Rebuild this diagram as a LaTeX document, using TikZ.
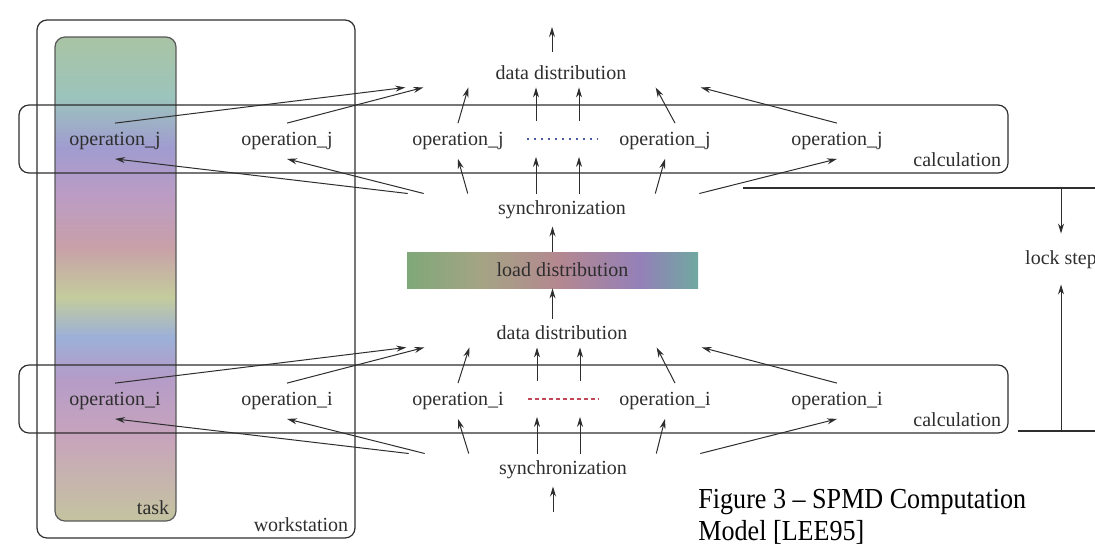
\documentclass[tikz,border=0pt]{standalone}
\usepackage{fontspec}
\setmainfont{Liberation Serif}
\newfontfamily\capfont[FakeStretch=0.9]{Liberation Serif}
\usepackage{tikz}
\usetikzlibrary{arrows.meta,calc}

\definecolor{ink}{HTML}{2E2E2E}
% task bar, top to bottom
\definecolor{tA}{HTML}{A9C4A4}
\definecolor{tB}{HTML}{9CC4BC}
\definecolor{tC}{HTML}{A09CD0}
\definecolor{tD}{HTML}{BC9CC4}
\definecolor{tE}{HTML}{C8A0A8}
\definecolor{tF}{HTML}{C4CC9C}
\definecolor{tG}{HTML}{9CB0D8}
\definecolor{tH}{HTML}{B49CC8}
\definecolor{tI}{HTML}{C8A4BC}
\definecolor{tJ}{HTML}{C4C4A0}
% load distribution, left to right
\definecolor{lA}{HTML}{7FA878}
\definecolor{lB}{HTML}{A4A484}
\definecolor{lC}{HTML}{B48890}
\definecolor{lD}{HTML}{9480B8}
\definecolor{lE}{HTML}{70A8A0}
\definecolor{dotblue}{HTML}{4A5AA8}
\definecolor{dotred}{HTML}{C04858}

\pgfdeclareverticalshading{taskshade}{100bp}{%
  color(0bp)=(tJ); color(25bp)=(tJ); color(33.7bp)=(tI); color(39.9bp)=(tH);
  color(44bp)=(tG); color(48.1bp)=(tF); color(53.3bp)=(tE); color(58.5bp)=(tD);
  color(63.6bp)=(tC); color(68.8bp)=(tB); color(75bp)=(tA); color(100bp)=(tA)}
\pgfdeclarehorizontalshading{loadshade}{100bp}{%
  color(0bp)=(lA); color(25bp)=(lA); color(37.5bp)=(lB); color(51bp)=(lC);
  color(65bp)=(lD); color(75bp)=(lE); color(100bp)=(lE)}

\begin{document}
\begin{tikzpicture}[
  x=0.5pt,y=-0.5pt,
  lbl/.style={font=\fontsize{10}{12}\selectfont,inner sep=3.5pt,text=ink},
  opnode/.style={lbl,inner sep=0pt,minimum height=17.5pt},
  calcbox/.style={draw=ink,line width=0.6pt,rounded corners=5pt,
    minimum width=494.5pt,minimum height=34pt},
  dotsnode/.style={minimum width=35pt,minimum height=17.5pt,inner sep=0pt},
  flow/.style={-{Stealth[length=5pt,width=3pt]},draw=ink,line width=0.5pt},
  rule/.style={draw=ink,line width=0.6pt},
  caplbl/.style={font=\capfont\fontsize{14.5}{16}\selectfont,inner sep=0pt,anchor=base west}
]
\useasboundingbox (0,0) rectangle (1095,548);

% workstation and task
\node[draw=ink,line width=0.6pt,rounded corners=5pt,minimum width=159pt,minimum height=259pt] (ws) at (196,279) {};
\node[lbl,anchor=south east] (wslbl) at (ws.south east) {workstation};
\node[shading=taskshade,draw=ink!80,line width=0.6pt,rounded corners=5pt,minimum width=60.5pt,minimum height=242pt] (task) at (115.5,279) {};
\node[lbl,anchor=south east] (tasklbl) at (task.south east) {task};

% ---------------- upper calculation (j) ----------------
\begin{scope}
  \node[calcbox] (calcj) at (513.5,139) {};
  \node[lbl,anchor=south east] (calcjlbl) at (calcj.south east) {calculation};

  \node[lbl] (ddj) at (561,73) {data distribution};
  \node[lbl] (syncj) at (562,210) {synchronization};

  \node[opnode] (opj1) at (115,141) {operation\_j};
  \node[opnode] (opj2) at (287,141) {operation\_j};
  \node[opnode] (opj3) at (458,141) {operation\_j};
  \node[opnode] (opj4) at (665,141) {operation\_j};
  \node[opnode] (opj5) at (837,141) {operation\_j};
  \node[dotsnode] (dotsj) at (562,139) {};
  \draw[dotblue,line width=0.6pt,dash pattern=on 1pt off 2.5pt] (dotsj.west) -- (dotsj.east);

  % up into data distribution
  \draw[flow] (opj1.north) -- ($(ddj.south west)+(-83,0)$);
  \draw[flow] (opj2.north) -- ($(ddj.south west)+(-65,0)$);
  \draw[flow] (opj3.north) -- ($(ddj.south west)+(-20,0)$);
  \draw[flow] ($(dotsj.north)+(-26,0)$) -- ($(ddj.south)+(-25,0)$);
  \draw[flow] ($(dotsj.north)+(17,0)$) -- ($(ddj.south)+(18,0)$);
  \draw[flow] ($(opj4.north)+(10,0)$) -- ($(ddj.south east)+(22,0)$);
  \draw[flow] (opj5.north) -- ($(ddj.south east)+(67,0)$);

  % synchronization into operations
  \draw[flow] ($(syncj.north west)+(-83,0)$) -- (opj1.south);
  \draw[flow] ($(syncj.north west)+(-67,0)$) -- (opj2.south);
  \draw[flow] ($(syncj.north west)+(-23,0)$) -- (opj3.south);
  \draw[flow] ($(syncj.north)+(-26,0)$) -- ($(dotsj.south)+(-26,0)$);
  \draw[flow] ($(syncj.north)+(17,0)$) -- ($(dotsj.south)+(17,0)$);
  \draw[flow] ($(syncj.north east)+(22,0)$) -- (opj4.south);
  \draw[flow] ($(syncj.north east)+(66,0)$) -- (opj5.south);
\end{scope}

% ---------------- lower calculation (i) ----------------
\begin{scope}[yshift=-130pt]
  \node[calcbox] (calci) at (513.5,139) {};
  \node[lbl,anchor=south east] (calcilbl) at (calci.south east) {calculation};

  \node[lbl] (ddi) at (562,73) {data distribution};
  \node[lbl] (synci) at (563,210) {synchronization};

  \node[opnode] (opi1) at (115,141) {operation\_i};
  \node[opnode] (opi2) at (287,141) {operation\_i};
  \node[opnode] (opi3) at (458,141) {operation\_i};
  \node[opnode] (opi4) at (665,141) {operation\_i};
  \node[opnode] (opi5) at (837,141) {operation\_i};
  \node[dotsnode] (dotsi) at (563,139) {};
  \draw[dotred,line width=0.6pt,dash pattern=on 2pt off 1.5pt] (dotsi.west) -- (dotsi.east);

  % up into data distribution
  \draw[flow] (opi1.north) -- ($(ddi.south west)+(-83,0)$);
  \draw[flow] (opi2.north) -- ($(ddi.south west)+(-65,0)$);
  \draw[flow] (opi3.north) -- ($(ddi.south west)+(-20,0)$);
  \draw[flow] ($(dotsi.north)+(-26,0)$) -- ($(ddi.south)+(-25,0)$);
  \draw[flow] ($(dotsi.north)+(17,0)$) -- ($(ddi.south)+(18,0)$);
  \draw[flow] ($(opi4.north)+(10,0)$) -- ($(ddi.south east)+(22,0)$);
  \draw[flow] (opi5.north) -- ($(ddi.south east)+(67,0)$);

  % synchronization into operations
  \draw[flow] ($(synci.north west)+(-83,0)$) -- (opi1.south);
  \draw[flow] ($(synci.north west)+(-67,0)$) -- (opi2.south);
  \draw[flow] ($(synci.north west)+(-23,0)$) -- (opi3.south);
  \draw[flow] ($(synci.north)+(-26,0)$) -- ($(dotsi.south)+(-26,0)$);
  \draw[flow] ($(synci.north)+(17,0)$) -- ($(dotsi.south)+(17,0)$);
  \draw[flow] ($(synci.north east)+(22,0)$) -- (opi4.south);
  \draw[flow] ($(synci.north east)+(66,0)$) -- (opi5.south);
\end{scope}

% ---------------- load distribution between the two ----------------
\node[shading=loadshade,minimum width=145.5pt,minimum height=18pt,inner sep=0pt,
  label={[lbl,xshift=5pt]center:load distribution}] (load) at (552.5,270) {};
\draw[flow] (load.north) -- (load.north |- syncj.south);
\draw[flow] (load.south |- ddi.north) -- (load.south);

\coordinate (exit) at (552,27);
\coordinate (entry) at (553,512);
\draw[flow,shorten <=3.5pt] (exit |- ddj.north) -- (exit);
\draw[flow] (entry) -- (entry |- synci.south);

% ---------------- lock step ----------------
\coordinate (lockA) at (743,188);
\coordinate (lockAend) at (1100,188);
\coordinate (lockB) at (1018,431);
\coordinate (lockBend) at (1100,431);
\draw[rule] (lockA) -- (lockAend);
\draw[rule] (lockB) -- (lockBend);
\node[lbl] (lockstep) at (1061,260) {lock step};
\draw[flow,shorten >=5pt] (lockstep.north |- lockA) -- (lockstep.north);
\draw[flow,shorten >=4pt] (lockstep.south |- lockB) -- (lockstep.south);

% caption
\node[caplbl] (cap1) at (698,508) {Figure 3 – SPMD Computation};
\node[caplbl] (cap2) at (698,540) {Model [LEE95]};

\end{tikzpicture}
\end{document}
